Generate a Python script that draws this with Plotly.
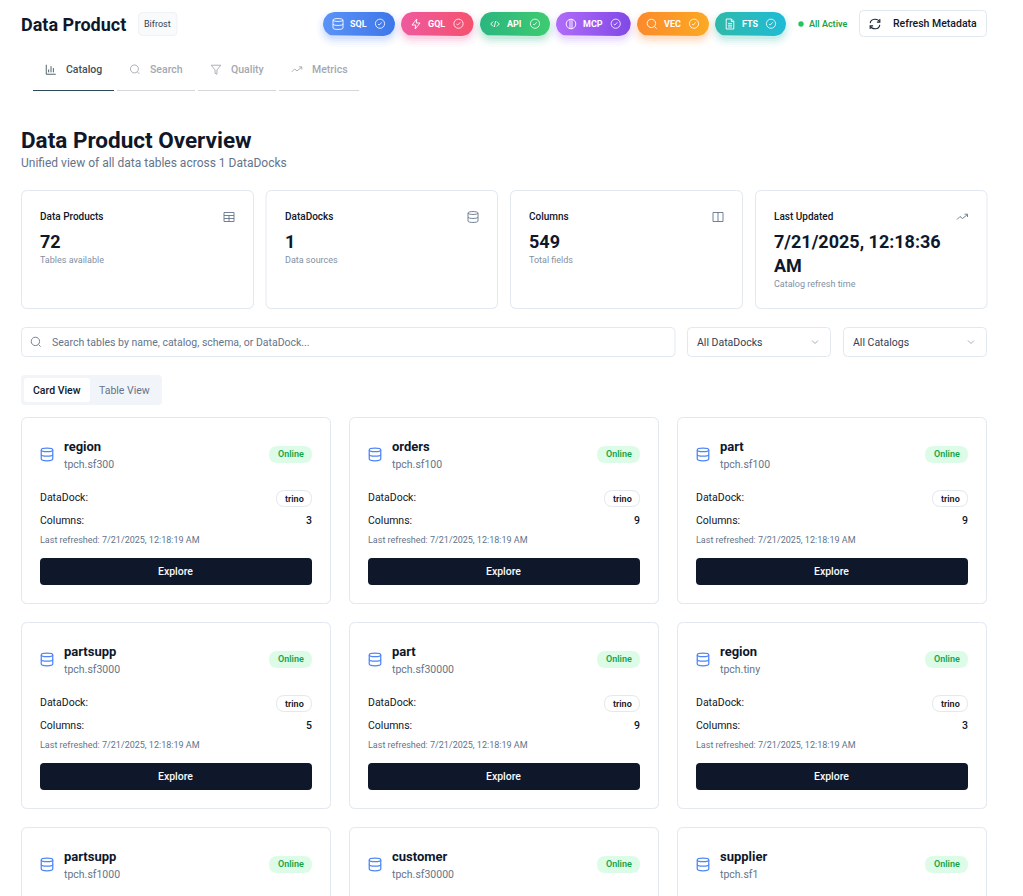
import numpy as np
import plotly.graph_objects as go

# ---------- content ----------
APP_TITLE = "Data Product"
APP_BADGE = "Bifrost"
PILL_NAMES = ["SQL", "GQL", "API", "MCP", "VEC", "FTS"]
PILL_ICONS = ["db", "zap", "code", "brain", "search", "file"]
PILL_LEFT = [323, 401, 480, 556, 637, 715]
PILL_RIGHT = [395, 473.5, 550, 630.7, 709, 786]
PILL_FROM = ["#5b93f7", "#ee5a9f", "#2bb680", "#b06cf8", "#fb8a2c", "#2fb9aa"]
PILL_TO = ["#3d76e8", "#f6516e", "#3ecb70", "#8148e6", "#fba923", "#1fbbd6"]
TAB_NAMES = ["Catalog", "Search", "Quality", "Metrics"]
TAB_ICONS = ["bars", "search", "funnel", "trend"]
TAB_LEFT = [33, 117, 198, 279]
TAB_RIGHT = [114, 195, 276, 359]
STAT_LABELS = ["Data Products", "DataDocks", "Columns", "Last Updated"]
STAT_VALUES = [["72"], ["1"], ["549"], ["7/21/2025, 12:18:36", "AM"]]
STAT_NOTES = ["Tables available", "Data sources", "Total fields", "Catalog refresh time"]
STAT_ICONS = ["table", "db", "columns", "trend"]
STAT_LEFT = [21.5, 266, 510.5, 755.5]
STAT_RIGHT = [253.5, 497.5, 742.5, 987]
TABLE_NAMES = ["region", "orders", "part", "partsupp", "part", "region", "partsupp", "customer", "supplier"]
TABLE_SCHEMAS = ["tpch.sf300", "tpch.sf100", "tpch.sf100", "tpch.sf3000", "tpch.sf30000", "tpch.tiny",
                 "tpch.sf1000", "tpch.sf30000", "tpch.sf1"]
TABLE_COLUMNS = [3, 9, 9, 5, 9, 3]
REFRESHED = "Last refreshed: 7/21/2025, 12:18:19 AM"

INK = "#0f172a"
SLATE = "#64748b"
BORDER = "#e2e8f0"
FONT = "Roboto"

shapes = []
annotations = []
traces = []


def rr_path(x0, y0, x1, y1, r):
    return (f"M{x0+r},{y0}L{x1-r},{y0}Q{x1},{y0} {x1},{y0+r}L{x1},{y1-r}Q{x1},{y1} {x1-r},{y1}"
            f"L{x0+r},{y1}Q{x0},{y1} {x0},{y1-r}L{x0},{y0+r}Q{x0},{y0} {x0+r},{y0}Z")


def rrect(x0, y0, x1, y1, r, fill="white", line=None, lw=1, layer="below"):
    shapes.append(dict(type="path", path=rr_path(x0, y0, x1, y1, r), xref="x", yref="y", layer=layer,
                       fillcolor=fill, line=dict(color=line or "rgba(0,0,0,0)", width=lw if line else 0)))


def stroke(path, color, lw=1.0, fill="rgba(0,0,0,0)"):
    shapes.append(dict(type="path", path=path, xref="x", yref="y", layer="above",
                       fillcolor=fill, line=dict(color=color, width=lw)))


def circle_path(cx, cy, r):
    k = 0.5523 * r
    return (f"M{cx+r},{cy}C{cx+r},{cy+k} {cx+k},{cy+r} {cx},{cy+r}C{cx-k},{cy+r} {cx-r},{cy+k} {cx-r},{cy}"
            f"C{cx-r},{cy-k} {cx-k},{cy-r} {cx},{cy-r}C{cx+k},{cy-r} {cx+r},{cy-k} {cx+r},{cy}Z")


def text(x, y, s, size=10, color=INK, weight=400, anchor="left"):
    nudge = {"left": -1, "right": 1, "center": -0.5}[anchor]
    annotations.append(dict(x=x + nudge, y=y, xref="x", yref="y", text=s, showarrow=False, xanchor=anchor,
                            yanchor="middle", align=anchor, borderpad=0,
                            font=dict(family=FONT, size=size, color=color, weight=weight)))


def icon(kind, c, y, color, s=1.0, lw=1.0):
    """Draw a small line icon centred on (c, y); s=1 is about 12px."""
    def P(*pts):
        return "M" + "L".join(f"{c+a*s},{y+b*s}" for a, b in pts)
    if kind == "db":
        w, h, e = 5 * s, 6 * s, 2 * s
        k = e * 0.6
        stroke(f"M{c-w},{y-h+e}C{c-w},{y-h+e-k*1.6} {c+w},{y-h+e-k*1.6} {c+w},{y-h+e}"
               f"C{c+w},{y-h+e+k*1.6} {c-w},{y-h+e+k*1.6} {c-w},{y-h+e}Z", color, lw)
        stroke(f"M{c-w},{y-h+e}L{c-w},{y+h-e}C{c-w},{y+h-e+k*1.6} {c+w},{y+h-e+k*1.6} {c+w},{y+h-e}L{c+w},{y-h+e}", color, lw)
        stroke(f"M{c-w},{y}C{c-w},{y+k*1.6} {c+w},{y+k*1.6} {c+w},{y}", color, lw)
    elif kind == "check":
        stroke(circle_path(c, y, 4.6 * s), color, lw)
        stroke(P((-2, 0.5), (-0.8, 1.3), (1.8, -1.4)), color, lw)
    elif kind == "zap":
        stroke(P((0.8, -5), (-4, 1), (-0.3, 1), (-0.8, 5), (4, -1), (0.3, -1), (0.8, -5)) + "Z", color, lw)
    elif kind == "code":
        stroke(P((-1.8, -2.5), (-4.3, 0), (-1.8, 2.5)), color, lw)
        stroke(P((1.8, -2.5), (4.3, 0), (1.8, 2.5)), color, lw)
        stroke(P((0.7, -3), (-0.7, 3)), color, lw)
    elif kind == "brain":
        stroke(circle_path(c, y, 4.8 * s), color, lw)
        stroke(P((-1, -4.5), (-1, 4.5)), color, lw)
        stroke(P((1, -4.5), (1, 4.5)), color, lw)
    elif kind == "search":
        stroke(circle_path(c - 0.6 * s, y - 0.6 * s, 4.2 * s), color, lw)
        stroke(P((2.5, 2.5), (4.6, 4.6)), color, lw)
    elif kind == "file":
        stroke(P((-3.8, -5), (1.5, -5), (3.8, -2.7), (3.8, 5), (-3.8, 5)) + "Z", color, lw)
        stroke(P((1.3, -5), (1.3, -2.5), (3.8, -2.5)), color, lw)
        for b in (-0.6, 1.2, 3):
            stroke(P((-2, b), (2, b)), color, lw)
    elif kind == "bars":
        stroke(P((-5, -5), (-5, 5), (5, 5)), color, lw)
        for a, t in ((-2.5, 0), (0, -3.5), (2.5, -1.5)):
            stroke(P((a, t), (a, 3)), color, lw)
    elif kind == "funnel":
        stroke(P((-5, -4.5), (5, -4.5), (1, 0.5), (1, 5), (-1, 4), (-1, 0.5)) + "Z", color, lw)
    elif kind == "trend":
        stroke(P((-5.5, 2.5), (-2.5, -0.5), (0, 1.5), (5, -2.5)), color, lw)
        stroke(P((2, -2.8), (5, -2.8), (5, 0)), color, lw)
    elif kind == "table":
        stroke(P((-5, -4.5), (5, -4.5), (5, 4.5), (-5, 4.5)) + "Z", color, lw)
        stroke(P((-5, -1.5), (5, -1.5)), color, lw)
        stroke(P((-5, 1.5), (5, 1.5)), color, lw)
        stroke(P((0, -1.5), (0, 4.5)), color, lw)
    elif kind == "columns":
        stroke(P((-5, -4.5), (5, -4.5), (5, 4.5), (-5, 4.5)) + "Z", color, lw)
        stroke(P((0, -4.5), (0, 4.5)), color, lw)
    elif kind == "chevron":
        stroke(P((-3, -1.5), (0, 1.5), (3, -1.5)), color, lw)
    elif kind == "refresh":
        k = 4.6 * s
        stroke(f"M{c-k},{y-0.8*s}C{c-k+0.8*s},{y-k-1*s} {c+2.5*s},{y-k-1*s} {c+k},{y-2*s}", color, lw)
        stroke(f"M{c+k},{y+0.8*s}C{c+k-0.8*s},{y+k+1*s} {c-2.5*s},{y+k+1*s} {c-k},{y+2*s}", color, lw)
        stroke(P((4.6, -4.8), (4.6, -1.8), (1.8, -1.8)), color, lw)
        stroke(P((-4.6, 4.8), (-4.6, 1.8), (-1.8, 1.8)), color, lw)


def rounded_outline(x0, y0, x1, y1, r, n=10):
    t = np.linspace(0, np.pi / 2, n)
    xs = np.concatenate([x1 - r + r * np.sin(t), x1 - r + r * np.cos(t), x0 + r - r * np.sin(t), x0 + r - r * np.cos(t)])
    ys = np.concatenate([y0 + r - r * np.cos(t), y1 - r + r * np.sin(t), y1 - r + r * np.cos(t), y0 + r - r * np.sin(t)])
    return np.append(xs, xs[0]), np.append(ys, ys[0])


def hex_rgba(h, a):
    return f"rgba({int(h[1:3],16)},{int(h[3:5],16)},{int(h[5:7],16)},{a})"


# ---------- header ----------
text(21, 24, APP_TITLE, 18, INK, 700)
rrect(138.5, 12.5, 177, 35.5, 4, "#f8fafc", "#eef1f6")
text(144, 24, APP_BADGE, 9, "#334155", 400)

for name, ic, x0, x1, c0, c1 in zip(PILL_NAMES, PILL_ICONS, PILL_LEFT, PILL_RIGHT, PILL_FROM, PILL_TO):
    for grow, alpha in ((9, .025), (7, .035), (5, .05), (3, .07), (1, .09)):
        rrect(x0 - grow + 2, 12 + 4 - grow + 2, x1 + grow - 2, 36 + 4 + grow - 2, 12 + grow, hex_rgba(c0, alpha))
    px, py = rounded_outline(x0, 12, x1, 36, 12)
    traces.append(go.Scatter(x=px, y=py, mode="lines", line=dict(width=0), fill="toself", hoverinfo="skip",
                             fillgradient=dict(type="horizontal", colorscale=[[0, c0], [1, c1]]), showlegend=False))
    icon(ic, x0 + 15, 24, "rgba(255,255,255,.9)", 1, 1)
    text(x0 + 27, 24, name, 9, "white", 700)
    icon("check", x1 - 15, 23.7, "rgba(255,255,255,.9)", 1, 0.9)

shapes.append(dict(type="circle", x0=798.3, x1=803.7, y0=21.3, y1=26.7, xref="x", yref="y",
                   fillcolor="#22c55e", line=dict(width=0), layer="above"))
text(809, 24, "All Active", 9, "#16a34a", 600)
rrect(859.5, 10.5, 986.5, 36.5, 4, "white", BORDER)
icon("refresh", 875, 24, "#1e293b", 1.05, 1.1)
text(892.8, 23.5, "Refresh Metadata", 10.5, INK, 500)

# ---------- tabs ----------
for i, (name, ic, x0, x1) in enumerate(zip(TAB_NAMES, TAB_ICONS, TAB_LEFT, TAB_RIGHT)):
    active = i == 0
    col = "#3f5158" if active else "#a3a8b0"
    text(x0 + 33, 69.5, name, 10.5, col, 500)
    icon(ic, x0 + 18, 69.5, col, 0.95, 0.9)
    shapes.append(dict(type="line", x0=x0, x1=x1, y0=90.5, y1=90.5, xref="x", yref="y", layer="below",
                       line=dict(color="#2f4858" if active else "#d4d6d9", width=1)))

# ---------- overview ----------
text(21, 140, "Data Product Overview", 22.5, INK, 700)
text(21, 162.5, "Unified view of all data tables across 1 DataDocks", 12, SLATE, 400)

for label, vals, note, ic, x0, x1 in zip(STAT_LABELS, STAT_VALUES, STAT_NOTES, STAT_ICONS, STAT_LEFT, STAT_RIGHT):
    rrect(x0, 191, x1, 309, 6, "rgba(15,23,42,.04)")
    rrect(x0, 190.5, x1, 308.5, 6, "white", BORDER)
    tx = x0 + 18.5
    text(tx, 216, label, 10, INK, 500)
    for j, v in enumerate(vals):
        text(tx, 241.5 + j * 24, v, 18, INK, 700)
    text(tx, 260 + (len(vals) - 1) * 24, note, 9, "#8290a4", 400)
    icon(ic, x1 - 24.5, 217, "#64748b", 1, 0.9)

# ---------- filters ----------
rrect(21.5, 327.5, 675, 356.5, 4, "white", BORDER)
icon("search", 36, 342, SLATE, 1, 0.9)
text(52, 342, "Search tables by name, catalog, schema, or DataDock...", 10.5, SLATE, 400)
for x0, x1, label in ((687.5, 830.5, "All DataDocks"), (843.5, 986.5, "All Catalogs")):
    rrect(x0, 327.5, x1, 356.5, 4, "white", BORDER)
    text(x0 + 9.5, 342, label, 10.5, "#334155", 400)
    icon("chevron", x1 - 15.5, 342, "#94a3b8", 1, 0.9)

rrect(21, 375, 162, 405, 4, "#f1f5f9")
rrect(24, 378, 90, 402, 3, "white")
text(33, 390, "Card View", 10.5, INK, 500)
text(98.5, 390, "Table View", 10.5, SLATE, 400)

# ---------- table cards ----------
for k, (name, schema) in enumerate(zip(TABLE_NAMES, TABLE_SCHEMAS)):
    col, row = k % 3, k // 3
    ox, oy = 328 * col, 205 * row
    rrect(21.5 + ox, 418 + oy, 331 + ox, 604 + oy, 6, "rgba(15,23,42,.04)")
    rrect(21.5 + ox, 417.5 + oy, 330.5 + ox, 603.5 + oy, 6, "white", BORDER)
    icon("db", 47 + ox, 454.5 + oy, "#4f86f7", 1.15, 1.25)
    text(64 + ox, 446.3 + oy, name, 13, INK, 700)
    text(64 + ox, 464 + oy, schema, 10.5, SLATE, 400)
    rrect(269 + ox, 446 + oy, 312 + ox, 463 + oy, 8.5, "#dcfce7")
    text(291 + ox, 454 + oy, "Online", 9, "#16a34a", 600, "center")
    if k < len(TABLE_COLUMNS):
        text(40 + ox, 497 + oy, "DataDock:", 10.5, INK, 400)
        rrect(276.5 + ox, 490.5 + oy, 311.5 + ox, 506.5 + oy, 8, "white", BORDER)
        text(294.5 + ox, 498.5 + oy, "trino", 9, INK, 600, "center")
        text(40 + ox, 520 + oy, "Columns:", 10.5, INK, 400)
        text(312 + ox, 520 + oy, str(TABLE_COLUMNS[k]), 10.5, INK, 500, "right")
        text(40 + ox, 539.5 + oy, REFRESHED, 9, SLATE, 400)
        rrect(40 + ox, 558 + oy, 312 + ox, 585 + oy, 4, INK)
        text(176 + ox, 571 + oy, "Explore", 10.5, "#f8fafc", 500, "center")

fig = go.Figure(traces)
fig.update_layout(
    width=1023, height=896, autosize=False, margin=dict(l=0, r=0, t=0, b=0),
    paper_bgcolor="white", plot_bgcolor="white", showlegend=False, hovermode=False,
    xaxis=dict(range=[0, 1023], visible=False, fixedrange=True),
    yaxis=dict(range=[896, 0], visible=False, fixedrange=True),
    shapes=shapes, annotations=annotations, font=dict(family=FONT),
)
fig.write_html("out.html", config=dict(displayModeBar=False, responsive=False),
               post_script="document.body.style.margin='0';document.body.style.overflow='hidden';")
